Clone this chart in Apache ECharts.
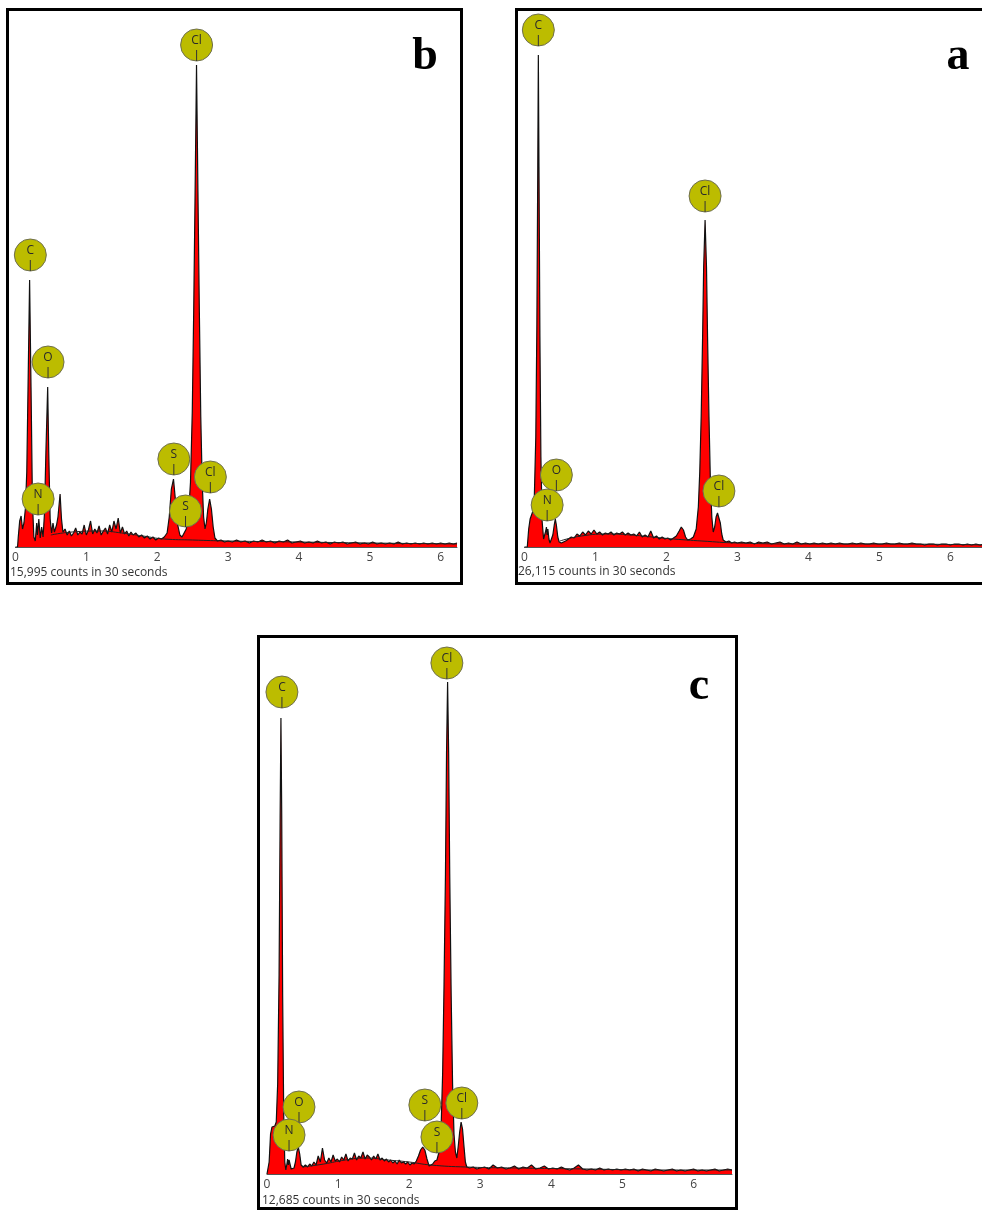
<!DOCTYPE html>
<html lang="en">
<head>
    <meta charset="UTF-8">
    <title>EDS spectra</title>
    <script src="https://cdn.jsdelivr.net/npm/echarts@6.0.0/dist/echarts.min.js"></script>
    <style>
        html, body {
            margin: 0;
            padding: 0;
            background: #fff;
            overflow: hidden;
        }
        body {
            width: 982px;
            height: 1210px;
            position: relative;
        }
        .panel {
            position: absolute;
            border: 3px solid #000;
            box-sizing: border-box;
        }
        .panel > div {
            width: 100%;
            height: 100%;
        }
        #panel-b { left: 6px; top: 8px; width: 457px; height: 577px; }
        #panel-a { left: 515px; top: 8px; width: 480px; height: 577px; }
        #panel-c { left: 257px; top: 635px; width: 481px; height: 575px; }
    </style>
</head>
<body>
    <div class="panel" id="panel-b"><div id="chart-b"></div></div>
    <div class="panel" id="panel-a"><div id="chart-a"></div></div>
    <div class="panel" id="panel-c"><div id="chart-c"></div></div>

    <script>
        // spectra: [energy keV, intensity]
        const specB = [[0,0],[0.03,0],[0.04,10],[0.06,26],[0.08,31],[0.10,18],[0.12,24],[0.14,38],[0.16,75],[0.18,170],[0.20,267],[0.22,160],[0.24,45],[0.26,10],[0.28,6],[0.30,24],[0.31,12],[0.33,28],[0.35,9],[0.37,20],[0.39,10],[0.41,34],[0.43,95],[0.455,160],[0.47,95],[0.49,28],[0.51,14],[0.53,24],[0.55,15],[0.58,22],[0.60,30],[0.63,53],[0.65,28],[0.67,15],[0.70,18],[0.73,12],[0.76,16],[0.79,11],[0.82,14],[0.85,19],[0.88,12],[0.91,15],[0.94,13],[0.97,22],[1.00,12],[1.03,17],[1.06,26],[1.09,13],[1.12,18],[1.15,14],[1.18,21],[1.21,12],[1.24,16],[1.27,19],[1.30,13],[1.33,22],[1.36,15],[1.39,26],[1.42,18],[1.45,29],[1.48,14],[1.51,20],[1.54,13],[1.57,16],[1.60,11],[1.63,15],[1.66,12],[1.70,14],[1.74,10],[1.78,12],[1.82,9],[1.86,11],[1.90,8],[1.94,10],[1.98,7],[2.02,9],[2.06,8],[2.10,10],[2.14,14],[2.17,30],[2.20,58],[2.23,68],[2.26,45],[2.29,22],[2.32,12],[2.35,10],[2.38,14],[2.41,18],[2.44,30],[2.47,65],[2.495,135],[2.515,235],[2.535,355],[2.555,482],[2.575,355],[2.595,235],[2.615,130],[2.635,65],[2.655,30],[2.675,18],[2.695,25],[2.715,38],[2.74,48],[2.765,38],[2.79,20],[2.815,9],[2.85,6],[2.90,7],[2.95,5],[3.00,6],[3.06,5],[3.12,7],[3.18,5],[3.24,6],[3.30,4],[3.36,6],[3.42,5],[3.48,7],[3.54,5],[3.60,6],[3.66,4],[3.72,6],[3.78,5],[3.84,7],[3.90,4],[3.96,5],[4.02,6],[4.08,4],[4.14,5],[4.20,4],[4.26,6],[4.32,4],[4.38,5],[4.44,3],[4.50,5],[4.56,4],[4.62,5],[4.68,3],[4.74,4],[4.80,5],[4.86,3],[4.92,4],[4.98,3],[5.04,5],[5.10,3],[5.16,4],[5.22,3],[5.28,4],[5.34,3],[5.40,5],[5.46,3],[5.52,4],[5.58,3],[5.64,4],[5.70,3],[5.76,4],[5.82,3],[5.88,4],[5.94,3],[6.00,4],[6.06,3],[6.12,4],[6.18,3],[6.23,4]];
        const bgB = [[0.5,12],[0.8,15],[1.2,16],[1.5,14],[1.8,11],[2.1,8],[2.5,7],[3.0,6],[4.0,5],[5.0,4],[6.23,3]];
        const peaksB = [['Cl',2.556,485],['C',0.21,275],['O',0.46,168],['N',0.32,31],['S',2.235,71],['S',2.40,19],['Cl',2.75,53]];

        const specA = [[0,0],[0.04,0],[0.06,18],[0.08,28],[0.10,32],[0.12,36],[0.14,52],[0.16,110],[0.175,220],[0.188,380],[0.196,492],[0.205,380],[0.218,210],[0.232,90],[0.25,25],[0.27,8],[0.29,6],[0.30,16],[0.31,20],[0.32,12],[0.33,18],[0.345,8],[0.36,4],[0.38,5],[0.40,12],[0.42,22],[0.435,28],[0.45,22],[0.47,10],[0.49,5],[0.52,4],[0.55,5],[0.58,6],[0.62,8],[0.66,10],[0.70,9],[0.74,13],[0.78,11],[0.82,15],[0.86,12],[0.90,16],[0.94,13],[0.98,17],[1.02,13],[1.06,15],[1.10,12],[1.14,14],[1.18,13],[1.22,15],[1.26,12],[1.30,14],[1.34,13],[1.38,15],[1.42,12],[1.46,14],[1.50,12],[1.54,13],[1.58,11],[1.62,15],[1.66,10],[1.70,12],[1.74,10],[1.78,16],[1.82,9],[1.86,11],[1.90,8],[1.94,10],[1.98,8],[2.02,9],[2.06,7],[2.10,9],[2.14,11],[2.18,16],[2.21,20],[2.24,17],[2.27,10],[2.30,7],[2.34,8],[2.38,10],[2.42,18],[2.45,40],[2.47,75],[2.49,130],[2.51,210],[2.525,280],[2.545,327],[2.565,280],[2.58,210],[2.60,130],[2.62,65],[2.64,30],[2.66,15],[2.68,20],[2.70,30],[2.72,34],[2.74,33],[2.76,24],[2.78,13],[2.80,7],[2.84,5],[2.88,6],[2.92,4],[2.96,5],[3.00,4],[3.06,5],[3.12,4],[3.18,5],[3.24,3],[3.30,5],[3.36,4],[3.42,5],[3.48,3],[3.54,4],[3.60,5],[3.66,3],[3.72,4],[3.78,3],[3.84,5],[3.90,3],[3.96,4],[4.02,3],[4.08,4],[4.14,3],[4.20,4],[4.26,3],[4.32,4],[4.38,3],[4.44,4],[4.50,3],[4.56,3],[4.62,4],[4.68,3],[4.74,4],[4.80,3],[4.86,3],[4.92,4],[4.98,3],[5.04,3],[5.10,4],[5.16,3],[5.22,3],[5.28,4],[5.34,3],[5.40,3],[5.46,4],[5.52,3],[5.58,3],[5.64,2],[5.70,3],[5.76,3],[5.82,2],[5.88,3],[5.94,3],[6.00,2],[6.06,3],[6.12,3],[6.18,2],[6.24,3],[6.30,2],[6.36,3],[6.42,2],[6.48,3],[6.545,2]];
        const bgA = [[0.5,6],[0.8,11],[1.2,13],[1.5,12],[1.8,10],[2.1,8],[2.5,6],[3.0,4],[4.0,3],[5.0,3],[6.545,2]];
        const peaksA = [['C',0.196,500],['Cl',2.545,334],['O',0.45,55],['N',0.32,25],['Cl',2.74,39]];

        const specC = [[0,0],[0.02,0],[0.03,12],[0.05,40],[0.07,47],[0.09,49],[0.11,48],[0.13,52],[0.15,90],[0.17,200],[0.185,360],[0.196,456],[0.207,360],[0.22,180],[0.235,60],[0.25,12],[0.265,4],[0.28,10],[0.29,15],[0.30,9],[0.31,14],[0.325,12],[0.34,5],[0.36,3],[0.38,6],[0.40,12],[0.42,22],[0.44,27],[0.46,20],[0.48,9],[0.51,7],[0.54,9],[0.57,7],[0.60,10],[0.63,8],[0.66,12],[0.69,9],[0.72,18],[0.75,12],[0.78,26],[0.81,14],[0.84,11],[0.87,16],[0.90,12],[0.93,19],[0.96,13],[0.99,15],[1.02,12],[1.05,17],[1.08,14],[1.11,20],[1.14,13],[1.17,16],[1.20,15],[1.23,21],[1.26,14],[1.29,18],[1.32,16],[1.35,22],[1.38,15],[1.41,19],[1.44,17],[1.47,14],[1.50,18],[1.53,15],[1.56,20],[1.59,14],[1.62,16],[1.65,13],[1.68,15],[1.71,12],[1.74,14],[1.77,11],[1.80,13],[1.83,10],[1.86,14],[1.89,11],[1.92,12],[1.95,10],[1.98,12],[2.01,9],[2.04,11],[2.07,10],[2.10,13],[2.13,18],[2.16,24],[2.19,27],[2.22,24],[2.25,15],[2.28,8],[2.30,7],[2.33,10],[2.36,13],[2.39,14],[2.42,22],[2.45,50],[2.47,100],[2.49,190],[2.51,300],[2.525,420],[2.54,492],[2.555,420],[2.57,300],[2.59,180],[2.61,90],[2.63,40],[2.65,22],[2.67,16],[2.69,28],[2.71,42],[2.73,52],[2.75,45],[2.77,28],[2.79,12],[2.81,7],[2.85,6],[2.90,7],[2.95,5],[3.00,6],[3.06,7],[3.12,5],[3.18,9],[3.24,6],[3.30,7],[3.36,5],[3.42,6],[3.48,8],[3.54,5],[3.60,7],[3.66,6],[3.72,9],[3.78,5],[3.84,6],[3.90,8],[3.96,5],[4.02,6],[4.08,5],[4.14,7],[4.20,5],[4.26,4],[4.32,6],[4.38,9],[4.44,5],[4.50,4],[4.56,5],[4.62,4],[4.68,6],[4.74,4],[4.80,5],[4.86,4],[4.92,5],[4.98,4],[5.04,5],[5.10,4],[5.16,5],[5.22,3],[5.28,5],[5.34,4],[5.40,3],[5.46,5],[5.52,4],[5.58,3],[5.64,4],[5.70,5],[5.76,3],[5.82,4],[5.88,3],[5.94,4],[6.00,5],[6.06,3],[6.12,4],[6.18,3],[6.24,4],[6.30,5],[6.36,3],[6.42,4],[6.48,5],[6.54,4]];
        const bgC = [[0.5,7],[0.8,10],[1.1,14],[1.4,16],[1.7,14],[2.0,12],[2.3,9],[2.8,7],[3.5,6],[4.5,5],[5.5,4],[6.54,4]];
        const peaksC = [['C',0.21,465],['Cl',2.53,494],['O',0.45,50],['N',0.31,22],['S',2.22,52],['S',2.39,20],['Cl',2.74,54]];

        const countsB = '15,995 counts in 30 seconds';
        const countsA = '26,115 counts in 30 seconds';
        const countsC = '12,685 counts in 30 seconds';

        const uiFont = '"Open Sans", "Noto Sans", sans-serif';

        function buildOption(cfg) {
            const peaks = cfg.peaks;
            return {
                animation: false,
                grid: { left: cfg.left, right: 0, top: 0, bottom: cfg.bottom },
                xAxis: {
                    type: 'value',
                    min: 0,
                    max: cfg.xMax,
                    interval: 1,
                    axisLine: { show: true, lineStyle: { color: '#555', width: 1 } },
                    axisTick: { show: false },
                    splitLine: { show: false },
                    axisLabel: {
                        margin: 5,
                        fontSize: 12,
                        color: '#444',
                        fontFamily: uiFont,
                        formatter: v => Number.isInteger(v) ? String(v) : ''
                    }
                },
                yAxis: { type: 'value', min: 0, max: 536, show: false },
                graphic: [
                    {
                        type: 'text', left: cfg.countsLeft, top: cfg.countsTop,
                        style: { text: cfg.counts, fontSize: 12, fill: '#333', fontFamily: uiFont }
                    },
                    {
                        type: 'text', x: cfg.letterX, y: cfg.letterY,
                        style: {
                            text: cfg.letter, fill: '#000', align: 'center', verticalAlign: 'middle',
                            font: 'bold 46px "Liberation Serif", "Times New Roman", serif'
                        }
                    }
                ],
                series: [
                    {
                        type: 'line',
                        data: cfg.spec,
                        showSymbol: false,
                        lineStyle: { color: '#111', width: 1.2 },
                        areaStyle: { color: '#ff0000', opacity: 1 },
                        z: 2
                    },
                    {
                        type: 'line',
                        data: cfg.bg,
                        smooth: true,
                        showSymbol: false,
                        lineStyle: { color: '#222', width: 1 },
                        z: 3
                    },
                    {
                        type: 'custom',
                        clip: false,
                        z: 5,
                        data: peaks.map(p => [p[1], p[2]]),
                        renderItem: function (params, api) {
                            const pt = api.coord([api.value(0), api.value(1)]);
                            const name = peaks[params.dataIndex][0];
                            return {
                                type: 'group',
                                children: [
                                    {
                                        type: 'circle',
                                        shape: { cx: pt[0], cy: pt[1] - 17, r: 16 },
                                        style: { fill: '#bcbc00', stroke: '#6e6e50', lineWidth: 1 }
                                    },
                                    {
                                        type: 'line',
                                        shape: { x1: pt[0], y1: pt[1] - 12, x2: pt[0], y2: pt[1] - 1 },
                                        style: { stroke: '#333', lineWidth: 1 }
                                    },
                                    {
                                        type: 'text',
                                        x: pt[0], y: pt[1] - 21,
                                        style: {
                                            text: name, fill: '#2a2a2a', fontSize: 12, fontFamily: uiFont,
                                            align: 'center', verticalAlign: 'middle'
                                        }
                                    }
                                ]
                            };
                        }
                    }
                ]
            };
        }

        const chartB = echarts.init(document.getElementById('chart-b'));
        chartB.setOption(buildOption({
            spec: specB, bg: bgB, peaks: peaksB, xMax: 6.23, left: 5, bottom: 35,
            counts: countsB, countsLeft: 1, countsTop: 556, letter: 'b', letterX: 416, letterY: 46
        }));

        const chartA = echarts.init(document.getElementById('chart-a'));
        chartA.setOption(buildOption({
            spec: specA, bg: bgA, peaks: peaksA, xMax: 6.545, left: 6, bottom: 35,
            counts: countsA, countsLeft: 0, countsTop: 555, letter: 'a', letterX: 440, letterY: 46
        }));

        const chartC = echarts.init(document.getElementById('chart-c'));
        chartC.setOption(buildOption({
            spec: specC, bg: bgC, peaks: peaksC, xMax: 6.54, left: 7, bottom: 33,
            counts: countsC, countsLeft: 2, countsTop: 557, letter: 'c', letterX: 439, letterY: 49
        }));
    </script>
</body>
</html>
